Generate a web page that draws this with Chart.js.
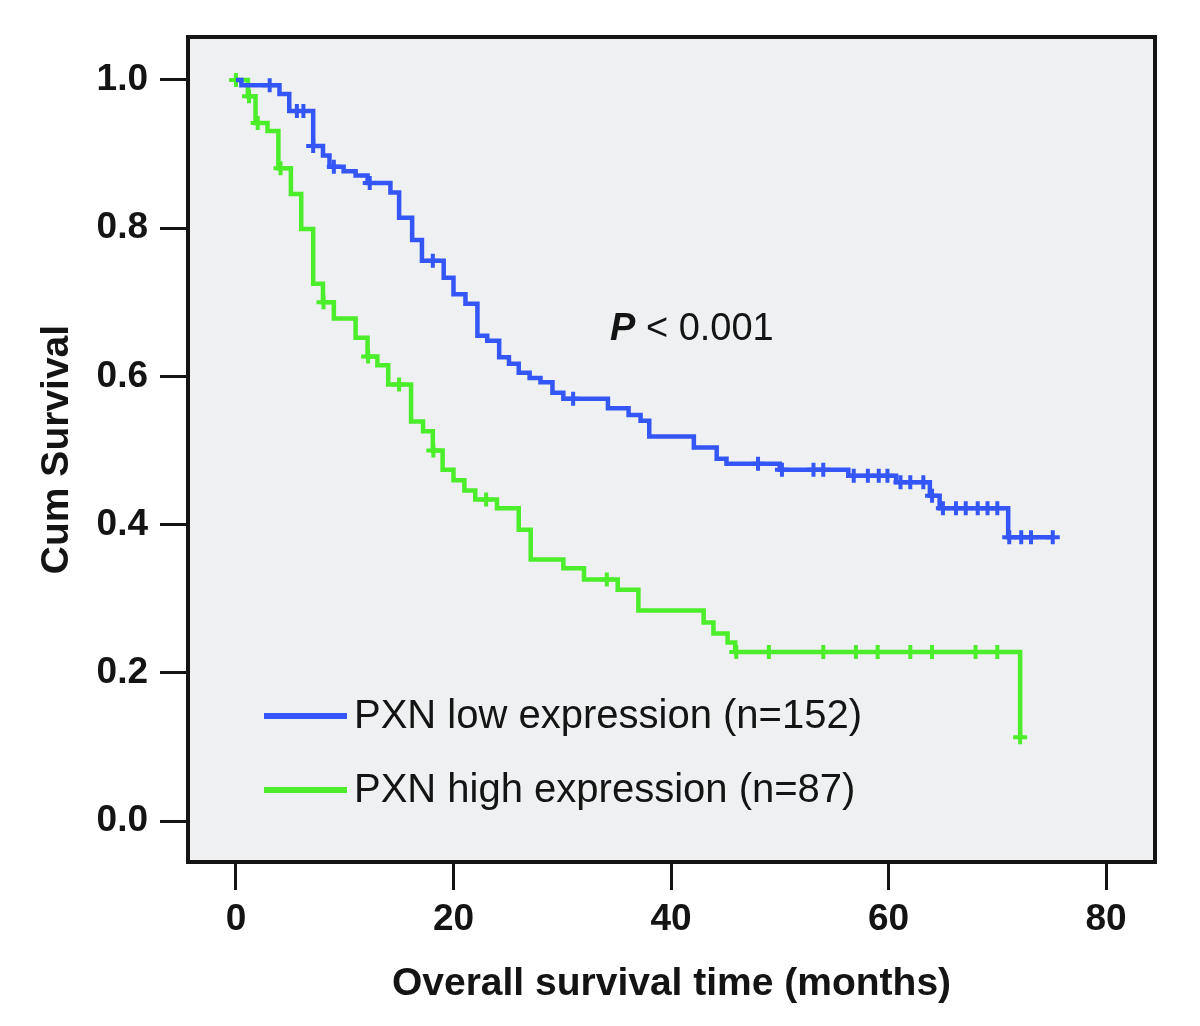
<!DOCTYPE html>
<html><head><meta charset="utf-8">
<script src="https://cdn.jsdelivr.net/npm/chart.js@4/dist/chart.umd.min.js"></script>
<style>html,body{margin:0;padding:0;background:#fff;}</style>
</head><body>
<canvas id="c" width="1200" height="1026"></canvas>
<script>
// ---- data ----
const lowTimes = [0, 0.5, 4.0, 4.9, 7.1, 8.0, 8.6, 9.9, 11.0, 12.1, 14.2, 15.0, 16.2, 17.1, 19.1, 20.0, 21.1, 22.2, 23.1, 24.2, 25.1, 26.0, 27.0, 28.0, 29.1, 30.1, 34.2, 36.1, 37.2, 38.0, 42.1, 44.2, 45.1, 50.0, 56.3, 60.7, 63.8, 64.7, 71.0, 75.1];
const lowSurv  = [1.0, 0.993, 0.981, 0.958, 0.911, 0.898, 0.883, 0.877, 0.871, 0.861, 0.848, 0.814, 0.784, 0.756, 0.733, 0.711, 0.698, 0.655, 0.648, 0.626, 0.617, 0.605, 0.598, 0.592, 0.578, 0.570, 0.557, 0.548, 0.540, 0.519, 0.504, 0.489, 0.482, 0.474, 0.466, 0.457, 0.439, 0.422, 0.383, 0.383];
const lowCensor = [3.1, 5.6, 6.2, 7.1, 9.0, 12.3, 18.1, 31.0, 48.0, 50.2, 53.1, 54.0, 56.8, 58.1, 59.1, 59.9, 61.1, 62.0, 63.2, 64.0, 65.0, 66.2, 67.1, 68.2, 69.1, 70.0, 71.1, 72.2, 73.1, 75.1];

const highTimes = [0, 1.1, 1.8, 2.9, 3.9, 5.05, 6.0, 7.1, 8.0, 9.0, 11.0, 12.1, 13.0, 14.0, 16.1, 17.2, 18.1, 19.0, 20.0, 21.0, 22.0, 24.0, 26.0, 27.1, 30.1, 32.0, 35.1, 37.0, 43.0, 43.9, 45.2, 45.9, 72.1];
const highSurv  = [1.0, 0.978, 0.942, 0.931, 0.881, 0.846, 0.799, 0.725, 0.700, 0.678, 0.652, 0.627, 0.615, 0.589, 0.539, 0.526, 0.500, 0.474, 0.460, 0.446, 0.434, 0.422, 0.393, 0.353, 0.341, 0.326, 0.312, 0.284, 0.268, 0.253, 0.241, 0.228, 0.113];
const highCensor = [0, 1.2, 2.0, 4.1, 8.05, 12.15, 15.0, 18.15, 23.0, 34.1, 46.0, 49.0, 54.0, 57.0, 59.0, 62.0, 64.0, 68.0, 70.0, 72.1];

const xTicks = [0, 20, 40, 60, 80];
const yTicks = [0.0, 0.2, 0.4, 0.6, 0.8, 1.0];
const seriesNames = ['PXN low expression (n=152)', 'PXN high expression (n=87)'];
const xTitle = 'Overall survival time (months)';
const yTitle = 'Cum Survival';
const pLabel = 'P';
const pValueText = ' < 0.001';

// ---- helpers ----
const BLUE = '#3456f6';
const GREEN = '#4ced2a';
const INK = '#141414';

function toPoints(ts, ss) { return ts.map((t, i) => ({x: t, y: ss[i]})); }
function survAt(ts, ss, t) {
  let v = ss[0];
  for (let i = 0; i < ts.length; i++) { if (ts[i] <= t + 1e-9) v = ss[i]; }
  return v;
}
function censorPoints(cs, ts, ss) { return cs.map(t => ({x: t, y: survAt(ts, ss, t)})); }

const bgPlugin = {
  id: 'plotBg',
  beforeDraw(chart) {
    const {ctx, chartArea: a} = chart;
    ctx.save();
    ctx.fillStyle = '#fff';
    ctx.fillRect(0, 0, chart.width, chart.height);
    ctx.fillStyle = '#eef0f1';
    ctx.fillRect(a.left, a.top, a.right - a.left, a.bottom - a.top);
    ctx.restore();
  },
  afterDraw(chart) {
    const {ctx, chartArea: a} = chart;
    ctx.save();
    ctx.strokeStyle = INK;
    ctx.lineWidth = 4;
    ctx.strokeRect(a.left, a.top, a.right - a.left, a.bottom - a.top);

    // legend (inside plot, lower left)
    const items = [[seriesNames[0], BLUE, 716], [seriesNames[1], GREEN, 790]];
    ctx.font = '40px "Liberation Sans", Arial, sans-serif';
    ctx.textBaseline = 'middle';
    ctx.textAlign = 'left';
    items.forEach(([txt, col, y]) => {
      ctx.strokeStyle = col;
      ctx.lineWidth = 6;
      ctx.beginPath();
      ctx.moveTo(a.left + 76, y);
      ctx.lineTo(a.left + 159, y);
      ctx.stroke();
      ctx.fillStyle = INK;
      ctx.fillText(txt, a.left + 166, y + 1);
    });

    // p-value annotation
    ctx.textBaseline = 'alphabetic';
    ctx.fillStyle = INK;
    ctx.font = 'italic bold 38px "Liberation Sans", Arial, sans-serif';
    const px = 610, py = 340;
    ctx.fillText(pLabel, px, py);
    const w = ctx.measureText(pLabel).width;
    ctx.font = '38px "Liberation Sans", Arial, sans-serif';
    ctx.fillText(pValueText, px + w, py);
    ctx.restore();
  }
};

const tickFont = {family: '"Liberation Sans", Arial, sans-serif', size: 37, weight: 'bold'};
const titleFont = {family: '"Liberation Sans", Arial, sans-serif', size: 39, weight: 'bold'};

new Chart(document.getElementById('c'), {
  type: 'scatter',
  data: {
    datasets: [
      {label: seriesNames[0], data: toPoints(lowTimes, lowSurv), showLine: true, stepped: 'before',
       borderColor: BLUE, borderWidth: 4.5, pointRadius: 0, fill: false},
      {label: seriesNames[1], data: toPoints(highTimes, highSurv), showLine: true, stepped: 'before',
       borderColor: GREEN, borderWidth: 4.5, pointRadius: 0, fill: false},
      {label: 'low censored', data: censorPoints(lowCensor, lowTimes, lowSurv), showLine: false,
       pointStyle: 'cross', pointRadius: 7, borderColor: BLUE, borderWidth: 4, pointHoverRadius: 7},
      {label: 'high censored', data: censorPoints(highCensor, highTimes, highSurv), showLine: false,
       pointStyle: 'cross', pointRadius: 7, borderColor: GREEN, borderWidth: 4, pointHoverRadius: 7}
    ]
  },
  options: {
    responsive: false,
    animation: false,
    devicePixelRatio: 1,
    layout: {padding: {top: 37, right: 45, left: 0, bottom: 0}},
    plugins: {legend: {display: false}, tooltip: {enabled: false}},
    scales: {
      x: {
        type: 'linear', min: -4.41, max: 84.5,
        afterBuildTicks: (ax) => { ax.ticks = xTicks.map(v => ({value: v})); },
        afterFit: (ax) => { ax.height = 164; },
        ticks: {font: tickFont, color: INK, padding: 8, maxRotation: 0, callback: (v) => String(v)},
        grid: {drawOnChartArea: false, drawTicks: true, tickLength: 28, tickWidth: 3, tickColor: INK},
        border: {display: false},
        title: {display: true, text: xTitle, font: titleFont, color: INK, padding: {top: 18, bottom: 18}}
      },
      y: {
        type: 'linear', min: -0.0553, max: 1.058,
        afterBuildTicks: (ax) => { ax.ticks = yTicks.map(v => ({value: v})); },
        afterFit: (ax) => { ax.width = 188; },
        ticks: {font: tickFont, color: INK, padding: 12, callback: (v) => Number(v).toFixed(1)},
        grid: {drawOnChartArea: false, drawTicks: true, tickLength: 28, tickWidth: 3, tickColor: INK},
        border: {display: false},
        title: {display: true, text: yTitle, font: titleFont, color: INK, padding: {top: 34, bottom: 34}}
      }
    }
  },
  plugins: [bgPlugin]
});
</script>
</body></html>
